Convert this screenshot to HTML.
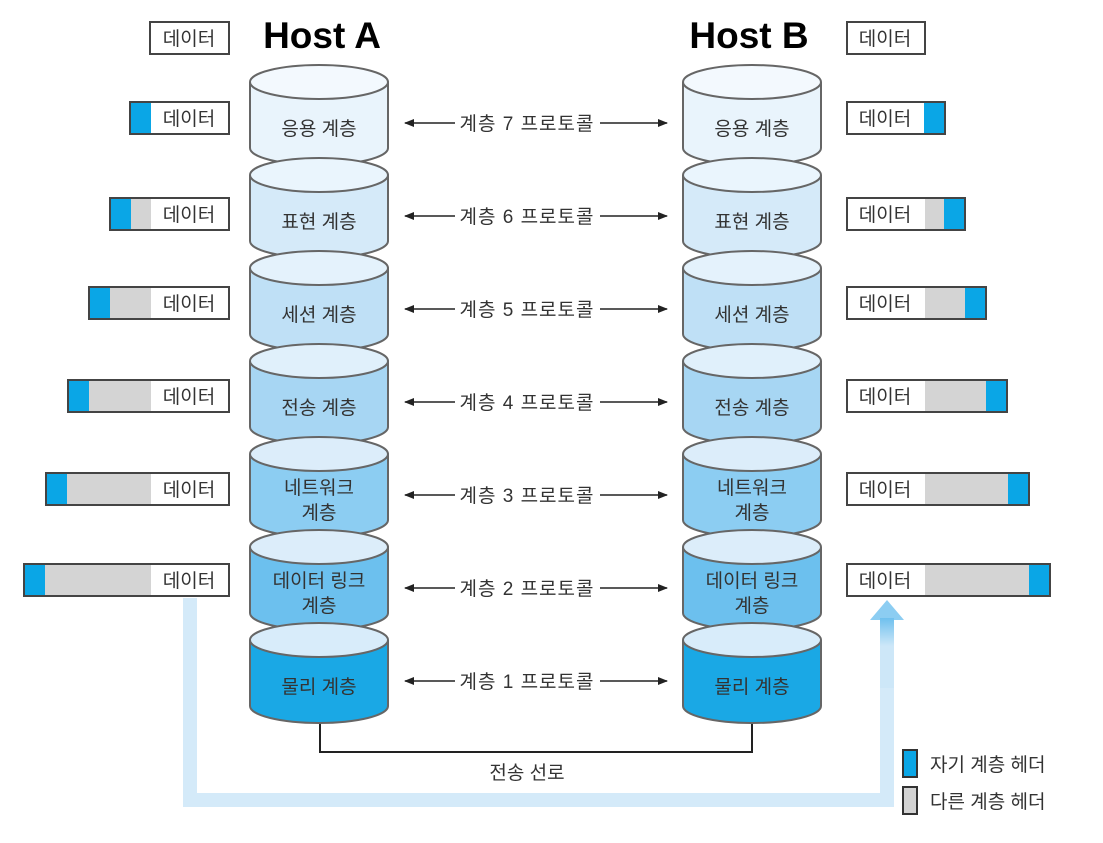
<!DOCTYPE html>
<html><head><meta charset="utf-8"><style>
body{margin:0;background:#fff}
svg{display:block}
text{font-family:"Liberation Sans","Noto Sans CJK KR",sans-serif;fill:#333;font-size:19px}
.c{text-anchor:middle}
.p{letter-spacing:1px}
.cy{stroke:#666;stroke-width:2}
.bx{fill:none;stroke:#444;stroke-width:2}
.w{fill:#fff;stroke:#444;stroke-width:2}
.g{fill:#d4d4d4}
.b{fill:#0aa6e6}
.ar{stroke:#222;stroke-width:1.5}
</style></head><body>
<svg width="1103" height="843" viewBox="0 0 1103 843" xmlns="http://www.w3.org/2000/svg">
<defs>
<linearGradient id="up" x1="0" y1="1" x2="0" y2="0"><stop offset="0" stop-color="#cde7f8"/><stop offset="0.6" stop-color="#cde7f8"/><stop offset="1" stop-color="#6fc0ee"/></linearGradient>
<marker id="ah" markerWidth="10" markerHeight="8" refX="9" refY="4" orient="auto" markerUnits="userSpaceOnUse"><path d="M0,0 L10,4 L0,8z" fill="#222"/></marker>
</defs>
<path d="M190,598 V800 H887 V618" fill="none" stroke="#d4eaf9" stroke-width="14"/>
<path d="M870,620 L887,600 L904,620z" fill="#8ccdf2"/>
<rect x="880" y="618" width="14" height="70" fill="url(#up)"/>
<path d="M320,718 V752 H752 V718" fill="none" stroke="#222" stroke-width="2"/>
<text x="527" y="779" class="c">전송 선로</text>
<text x="322" y="48" class="c" style="font-size:37px;font-weight:bold;fill:#000">Host A</text>
<text x="749" y="48" class="c" style="font-size:37px;font-weight:bold;fill:#000">Host B</text>

<path class="cy" d="M250,82 V148 A69,17 0 0 0 388,148 V82" fill="#e9f4fc"/><ellipse class="cy" cx="319" cy="82" rx="69" ry="17" fill="#f3f9fe"/>
<path class="cy" d="M683,82 V148 A69,17 0 0 0 821,148 V82" fill="#e9f4fc"/><ellipse class="cy" cx="752" cy="82" rx="69" ry="17" fill="#f3f9fe"/>
<text x="319" y="135" class="c">응용 계층</text><text x="752" y="135" class="c">응용 계층</text>
<path class="cy" d="M250,175 V241 A69,17 0 0 0 388,241 V175" fill="#d5eaf9"/><ellipse class="cy" cx="319" cy="175" rx="69" ry="17" fill="#eaf5fd"/>
<path class="cy" d="M683,175 V241 A69,17 0 0 0 821,241 V175" fill="#d5eaf9"/><ellipse class="cy" cx="752" cy="175" rx="69" ry="17" fill="#eaf5fd"/>
<text x="319" y="228" class="c">표현 계층</text><text x="752" y="228" class="c">표현 계층</text>
<path class="cy" d="M250,268 V334 A69,17 0 0 0 388,334 V268" fill="#bfe0f6"/><ellipse class="cy" cx="319" cy="268" rx="69" ry="17" fill="#e4f2fc"/>
<path class="cy" d="M683,268 V334 A69,17 0 0 0 821,334 V268" fill="#bfe0f6"/><ellipse class="cy" cx="752" cy="268" rx="69" ry="17" fill="#e4f2fc"/>
<text x="319" y="321" class="c">세션 계층</text><text x="752" y="321" class="c">세션 계층</text>
<path class="cy" d="M250,361 V427 A69,17 0 0 0 388,427 V361" fill="#a7d6f3"/><ellipse class="cy" cx="319" cy="361" rx="69" ry="17" fill="#e0f0fb"/>
<path class="cy" d="M683,361 V427 A69,17 0 0 0 821,427 V361" fill="#a7d6f3"/><ellipse class="cy" cx="752" cy="361" rx="69" ry="17" fill="#e0f0fb"/>
<text x="319" y="414" class="c">전송 계층</text><text x="752" y="414" class="c">전송 계층</text>
<path class="cy" d="M250,454 V520 A69,17 0 0 0 388,520 V454" fill="#8ccdf2"/><ellipse class="cy" cx="319" cy="454" rx="69" ry="17" fill="#dcedfa"/>
<path class="cy" d="M683,454 V520 A69,17 0 0 0 821,520 V454" fill="#8ccdf2"/><ellipse class="cy" cx="752" cy="454" rx="69" ry="17" fill="#dcedfa"/>
<text x="319" y="494" class="c">네트워크</text><text x="319" y="519" class="c">계층</text>
<text x="752" y="494" class="c">네트워크</text><text x="752" y="519" class="c">계층</text>
<path class="cy" d="M250,547 V613 A69,17 0 0 0 388,613 V547" fill="#6cc0ee"/><ellipse class="cy" cx="319" cy="547" rx="69" ry="17" fill="#dcedfa"/>
<path class="cy" d="M683,547 V613 A69,17 0 0 0 821,613 V547" fill="#6cc0ee"/><ellipse class="cy" cx="752" cy="547" rx="69" ry="17" fill="#dcedfa"/>
<text x="319" y="587" class="c">데이터 링크</text><text x="319" y="612" class="c">계층</text>
<text x="752" y="587" class="c">데이터 링크</text><text x="752" y="612" class="c">계층</text>
<path class="cy" d="M250,640 V706 A69,17 0 0 0 388,706 V640" fill="#1aa8e5"/><ellipse class="cy" cx="319" cy="640" rx="69" ry="17" fill="#d8ecfa"/>
<path class="cy" d="M683,640 V706 A69,17 0 0 0 821,706 V640" fill="#1aa8e5"/><ellipse class="cy" cx="752" cy="640" rx="69" ry="17" fill="#d8ecfa"/>
<text x="319" y="693" class="c">물리 계층</text><text x="752" y="693" class="c">물리 계층</text>

<g class="ar" marker-end="url(#ah)">
<line x1="455" y1="123" x2="405" y2="123"/><line x1="600" y1="123" x2="667" y2="123"/>
<line x1="455" y1="216" x2="405" y2="216"/><line x1="600" y1="216" x2="667" y2="216"/>
<line x1="455" y1="309" x2="405" y2="309"/><line x1="600" y1="309" x2="667" y2="309"/>
<line x1="455" y1="402" x2="405" y2="402"/><line x1="600" y1="402" x2="667" y2="402"/>
<line x1="455" y1="495" x2="405" y2="495"/><line x1="600" y1="495" x2="667" y2="495"/>
<line x1="455" y1="588" x2="405" y2="588"/><line x1="600" y1="588" x2="667" y2="588"/>
<line x1="455" y1="681" x2="405" y2="681"/><line x1="600" y1="681" x2="667" y2="681"/>
</g>
<text x="527" y="130" class="c p">계층 7 프로토콜</text>
<text x="527" y="223" class="c p">계층 6 프로토콜</text>
<text x="527" y="316" class="c p">계층 5 프로토콜</text>
<text x="527" y="409" class="c p">계층 4 프로토콜</text>
<text x="527" y="502" class="c p">계층 3 프로토콜</text>
<text x="527" y="595" class="c p">계층 2 프로토콜</text>
<text x="527" y="688" class="c p">계층 1 프로토콜</text>

<rect class="w" x="150" y="22" width="79" height="32"/><text x="189" y="45" class="c">데이터</text>
<rect class="w" x="130" y="102" width="99" height="32"/><rect class="b" x="131" y="103" width="20" height="30"/><rect class="bx" x="130" y="102" width="99" height="32"/><text x="189" y="125" class="c">데이터</text>
<rect class="w" x="110" y="198" width="119" height="32"/><rect class="g" x="130" y="199" width="21" height="30"/><rect class="b" x="111" y="199" width="20" height="30"/><rect class="bx" x="110" y="198" width="119" height="32"/><text x="189" y="221" class="c">데이터</text>
<rect class="w" x="89" y="287" width="140" height="32"/><rect class="g" x="109" y="288" width="42" height="30"/><rect class="b" x="90" y="288" width="20" height="30"/><rect class="bx" x="89" y="287" width="140" height="32"/><text x="189" y="310" class="c">데이터</text>
<rect class="w" x="68" y="380" width="161" height="32"/><rect class="g" x="88" y="381" width="63" height="30"/><rect class="b" x="69" y="381" width="20" height="30"/><rect class="bx" x="68" y="380" width="161" height="32"/><text x="189" y="403" class="c">데이터</text>
<rect class="w" x="46" y="473" width="183" height="32"/><rect class="g" x="66" y="474" width="85" height="30"/><rect class="b" x="47" y="474" width="20" height="30"/><rect class="bx" x="46" y="473" width="183" height="32"/><text x="189" y="496" class="c">데이터</text>
<rect class="w" x="24" y="564" width="205" height="32"/><rect class="g" x="44" y="565" width="107" height="30"/><rect class="b" x="25" y="565" width="20" height="30"/><rect class="bx" x="24" y="564" width="205" height="32"/><text x="189" y="587" class="c">데이터</text>

<rect class="w" x="847" y="22" width="78" height="32"/><text x="885" y="45" class="c">데이터</text>
<rect class="w" x="847" y="102" width="98" height="32"/><rect class="b" x="924" y="103" width="20" height="30"/><rect class="bx" x="847" y="102" width="98" height="32"/><text x="885" y="125" class="c">데이터</text>
<rect class="w" x="847" y="198" width="118" height="32"/><rect class="g" x="925" y="199" width="20" height="30"/><rect class="b" x="944" y="199" width="20" height="30"/><rect class="bx" x="847" y="198" width="118" height="32"/><text x="885" y="221" class="c">데이터</text>
<rect class="w" x="847" y="287" width="139" height="32"/><rect class="g" x="925" y="288" width="41" height="30"/><rect class="b" x="965" y="288" width="20" height="30"/><rect class="bx" x="847" y="287" width="139" height="32"/><text x="885" y="310" class="c">데이터</text>
<rect class="w" x="847" y="380" width="160" height="32"/><rect class="g" x="925" y="381" width="62" height="30"/><rect class="b" x="986" y="381" width="20" height="30"/><rect class="bx" x="847" y="380" width="160" height="32"/><text x="885" y="403" class="c">데이터</text>
<rect class="w" x="847" y="473" width="182" height="32"/><rect class="g" x="925" y="474" width="84" height="30"/><rect class="b" x="1008" y="474" width="20" height="30"/><rect class="bx" x="847" y="473" width="182" height="32"/><text x="885" y="496" class="c">데이터</text>
<rect class="w" x="847" y="564" width="203" height="32"/><rect class="g" x="925" y="565" width="105" height="30"/><rect class="b" x="1029" y="565" width="20" height="30"/><rect class="bx" x="847" y="564" width="203" height="32"/><text x="885" y="587" class="c">데이터</text>

<rect x="903" y="750" width="14" height="27" fill="#0aa6e6" stroke="#333" stroke-width="2"/>
<rect x="903" y="787" width="14" height="27" fill="#d4d4d4" stroke="#333" stroke-width="2"/>
<text x="930" y="771">자기 계층 헤더</text>
<text x="930" y="808">다른 계층 헤더</text>
</svg>
</body></html>
